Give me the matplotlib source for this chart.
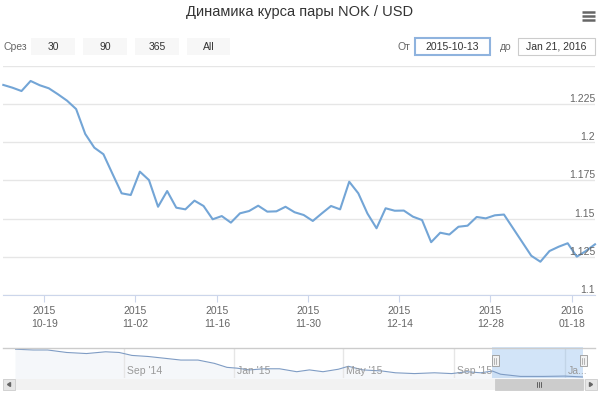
import matplotlib
matplotlib.use("Agg")
import matplotlib.pyplot as plt
import matplotlib.dates as mdates
from matplotlib.patches import Rectangle
import numpy as np

W, H = 600, 396

# main series: one value per trading day, 2015-10-13 .. 2016-01-21 (ordinal axis)
rate = [1.2376, 1.2358, 1.2336, 1.2402, 1.2374, 1.2354, 1.2315, 1.2273, 1.2218, 1.2055,
        1.1965, 1.1922, 1.1793, 1.1666, 1.1655, 1.1808, 1.1753, 1.1578, 1.1681, 1.1572,
        1.1561, 1.1618, 1.1583, 1.1496, 1.1517, 1.1474, 1.1535, 1.1550, 1.1585, 1.1546,
        1.1548, 1.1578, 1.1542, 1.1524, 1.1485, 1.1535, 1.1583, 1.1561, 1.1742, 1.1666,
        1.1534, 1.1437, 1.1568, 1.1552, 1.1553, 1.1513, 1.1491, 1.1346, 1.1408, 1.1396,
        1.1447, 1.1454, 1.1511, 1.1502, 1.1522, 1.1527, 1.1437, 1.1347, 1.1257, 1.1218,
        1.1288, 1.1316, 1.1339, 1.1251, 1.1288, 1.1332]
x_tick_pos = [4.5, 14.5, 23.5, 33.5, 43.5, 53.5, 62.5]
x_tick_labels = ["2015\n10-19", "2015\n11-02", "2015\n11-16", "2015\n11-30",
                 "2015\n12-14", "2015\n12-28", "2016\n01-18"]
y_ticks = [1.1, 1.125, 1.15, 1.175, 1.2, 1.225, 1.25]
y_labels = ["1.1", "1.125", "1.15", "1.175", "1.2", "1.225", ""]

# navigator (full history)
nav_dates = ["2014-05-04", "2014-05-24", "2014-06-09", "2014-06-30", "2014-07-22",
             "2014-08-12", "2014-08-27", "2014-09-10", "2014-09-28", "2014-10-17",
             "2014-11-03", "2014-11-22", "2014-12-10", "2014-12-24", "2015-01-04",
             "2015-01-18", "2015-02-03", "2015-02-20", "2015-03-11", "2015-03-25",
             "2015-04-09", "2015-04-26", "2015-05-07", "2015-05-23", "2015-06-13",
             "2015-06-28", "2015-07-19", "2015-08-10", "2015-08-29", "2015-09-15",
             "2015-09-30", "2015-10-13", "2015-10-22", "2015-11-13", "2015-12-08",
             "2016-01-01", "2016-01-21"]
nav_rate = [1.624, 1.610, 1.610, 1.566, 1.547, 1.578, 1.566, 1.514, 1.495, 1.462,
            1.432, 1.432, 1.374, 1.303, 1.289, 1.258, 1.278, 1.278, 1.226, 1.258,
            1.226, 1.270, 1.322, 1.258, 1.239, 1.207, 1.193, 1.207, 1.193, 1.226,
            1.207, 1.238, 1.182, 1.143, 1.143, 1.149, 1.133]
nav_ticks = ["2014-09-01", "2015-01-01", "2015-05-01", "2015-09-01", "2016-01-01"]
nav_tick_labels = ["Sep '14", "Jan '15", "May '15", "Sep '15", "Ja..."]
sel_start, sel_end = "2015-10-13", "2016-01-21"

plt.rcParams["font.family"] = ["Liberation Sans", "DejaVu Sans"]


def px_axes(fig, x0, y0, x1, y1):
    return fig.add_axes([x0 / W, 1 - y1 / H, (x1 - x0) / W, (y1 - y0) / H])


fig = plt.figure(figsize=(W / 100, H / 100), dpi=100)

# overlay for title and controls, in pixel units
ov = fig.add_axes([0, 0, 1, 1], zorder=5)
ov.set_xlim(0, W)
ov.set_ylim(H, 0)
ov.axis("off")
ov.patch.set_alpha(0)

ov.text(300, 12, "Динамика курса пары NOK / USD", ha="center", va="center",
        fontsize=10.5, color="#333333")
for yy in (11.5, 15.5, 19.5):
    ov.plot([582, 595], [yy, yy], color="#666666", lw=1.8, solid_capstyle="butt")

ov.text(4, 46.5, "Срез", ha="left", va="center", fontsize=7.5, color="#666666")
for (bx0, bx1), lab in zip([(31, 75), (83, 127), (135, 179), (187, 230)],
                           ["30", "90", "365", "All"]):
    ov.add_patch(Rectangle((bx0, 38), bx1 - bx0, 17, facecolor="#f7f7f7", edgecolor="none"))
    ov.text((bx0 + bx1) / 2, 46.5, lab, ha="center", va="center", fontsize=7.5, color="#333333")

ov.text(397, 46.5, "От", ha="left", va="center", fontsize=7.5, color="#666666")
ov.add_patch(Rectangle((415, 37.5), 75, 17, facecolor="white", edgecolor="#8fb3de", lw=1.5))
ov.text(452.5, 46.5, "2015-10-13", ha="center", va="center", fontsize=7.5, color="#333333")
ov.text(500, 46.5, "до", ha="left", va="center", fontsize=7.5, color="#666666")
ov.add_patch(Rectangle((518, 37.5), 77, 17, facecolor="white", edgecolor="#cccccc", lw=0.8))
ov.text(556.5, 46.5, "Jan 21, 2016", ha="center", va="center", fontsize=7.5, color="#333333")

# main chart
ax = px_axes(fig, 3.3, 66, 595, 295)
xs = np.arange(len(rate))
ax.plot(xs, rate, color="#73a5d6", lw=1.5, zorder=3, clip_on=False)
ax.set_xlim(0, len(rate) - 1)
ax.set_ylim(1.1, 1.25)
for s in ("top", "left", "right"):
    ax.spines[s].set_visible(False)
ax.spines["bottom"].set_color("#ccd6eb")
ax.set_yticks(y_ticks)
ax.set_yticklabels([])
ax.tick_params(axis="y", length=0)
ax.grid(axis="y", color="#e6e6e6", lw=1)
ax.set_axisbelow(True)
for v, lab in zip(y_ticks, y_labels):
    ax.annotate(lab, xy=(1.0, v), xycoords=("axes fraction", "data"),
                xytext=(0, 2), textcoords="offset pixels", ha="right", va="baseline",
                fontsize=7.5, color="#666666", zorder=4)
ax.set_xticks(x_tick_pos)
ax.set_xticklabels(x_tick_labels, fontsize=7.5, color="#666666", linespacing=1.35)
ax.tick_params(axis="x", length=5, color="#ccd6eb", pad=3)

# navigator
nav = px_axes(fig, 15, 348, 583, 378)
nd = mdates.datestr2num(nav_dates)
nav.plot(nd, nav_rate, color="#7f9cc4", lw=0.8, zorder=3)
nav.fill_between(nd, nav_rate, 1.0, color="#4572a7", alpha=0.05, lw=0)
nav.set_xlim(mdates.datestr2num("2014-05-04"), mdates.datestr2num("2016-01-21"))
nav.set_ylim(1.115, 1.645)
nav.axis("off")
for d, lab in zip(mdates.datestr2num(nav_ticks), nav_tick_labels):
    nav.axvline(d, color="#e6e6e6", lw=1, zorder=1)
    nav.annotate(lab, xy=(d, 0), xycoords=("data", "axes fraction"), xytext=(3, 2),
                 textcoords="offset pixels", ha="left", va="bottom",
                 fontsize=7.5, color="#999999", zorder=4)
s0, s1 = mdates.datestr2num(sel_start), mdates.datestr2num(sel_end)
nav.axvspan(s0, s1, ymin=0, ymax=1.03, color=(0.5, 0.7, 0.92), alpha=0.35, lw=0,
            zorder=2, clip_on=False)

# navigator outline, handles and scrollbar (pixel overlay)
ov.plot([3, 595], [347.5, 347.5], color="#cccccc", lw=1)
for hx in (495, 583):
    ov.add_patch(Rectangle((hx - 3.5, 355), 7, 11, facecolor="#f2f2f2", edgecolor="#999999", lw=0.6))
    ov.plot([hx - 1, hx - 1], [357.5, 363.5], color="#999999", lw=0.5)
    ov.plot([hx + 1, hx + 1], [357.5, 363.5], color="#999999", lw=0.5)
ov.add_patch(Rectangle((3, 379), 594, 11, facecolor="#f2f2f2", edgecolor="none"))
ov.add_patch(Rectangle((3, 379), 12, 11, facecolor="#e6e6e6", edgecolor="#cccccc", lw=0.6))
ov.add_patch(Rectangle((585, 379), 12, 11, facecolor="#e6e6e6", edgecolor="#cccccc", lw=0.6))
ov.plot([10.5, 7.5, 10.5], [382, 384.5, 387], color="#666666", lw=0, marker=None)
ov.fill([10.5, 7.5, 10.5], [382.5, 384.5, 386.5], color="#666666")
ov.fill([589.5, 592.5, 589.5], [382.5, 384.5, 386.5], color="#666666")
ov.add_patch(Rectangle((495, 379), 88, 11, facecolor="#cccccc", edgecolor="#cccccc", lw=0.6))
for gx in (537, 539, 541):
    ov.plot([gx, gx], [382, 387], color="#333333", lw=0.5)

fig.savefig("out.png", dpi=100, facecolor="white")
